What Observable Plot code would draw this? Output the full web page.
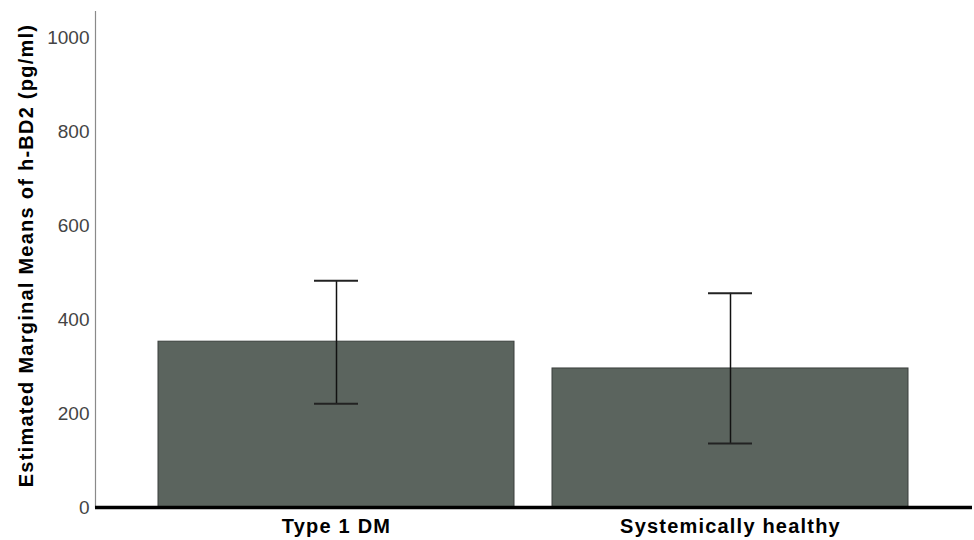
<!DOCTYPE html>
<html>
<head>
<meta charset="utf-8">
<script src="https://cdn.jsdelivr.net/npm/d3@7"></script>
<script src="https://cdn.jsdelivr.net/npm/@observablehq/plot@0.6"></script>
<style>
  html, body { margin: 0; padding: 0; background: #fff; }
  #chart svg { display: block; }
  #chart .xlab text { font-weight: bold; letter-spacing: 1.2px; }
  #chart .ytitle text { letter-spacing: 1.25px; }
</style>
</head>
<body>
<div id="chart"></div>
<script>
const groups = ["Type 1 DM", "Systemically healthy"];
const means = [353, 296];
const lower = [221, 136];
const upper = [483, 456];
const yTicks = [0, 200, 400, 600, 800, 1000];
const yTitle = "Estimated Marginal Means of h-BD2 (pg/ml)";

const data = groups.map((g, i) => ({group: g, mean: means[i], lo: lower[i], hi: upper[i]}));

const chart = Plot.plot({
  width: 974,
  height: 540,
  marginLeft: 95,
  marginRight: 2,
  marginTop: 11,
  marginBottom: 33,
  style: {fontFamily: "'Liberation Sans', Arial, sans-serif", background: "#fff"},
  x: {domain: groups, paddingInner: 0.096, paddingOuter: 0.16},
  y: {domain: [0, 1056]},
  marks: [
    Plot.frame({anchor: "left", stroke: "#8a8a8a", strokeWidth: 1.2}),
    Plot.barY(data, {x: "group", y: "mean", fill: "#5b645e", stroke: "#3a3f3c", strokeWidth: 1}),
    Plot.ruleX(data, {x: "group", y1: "lo", y2: "hi", stroke: "#111", strokeWidth: 1.5}),
    Plot.tickY(data, {x: "group", y: "hi", stroke: "#222", strokeWidth: 2, insetLeft: 156, insetRight: 156}),
    Plot.tickY(data, {x: "group", y: "lo", stroke: "#222", strokeWidth: 2, insetLeft: 156, insetRight: 156}),
    Plot.ruleY([0], {stroke: "#000", strokeWidth: 3.5}),
    Plot.axisY({ticks: yTicks, tickFormat: d3.format("d"), tickSize: 0, tickPadding: 6, fontSize: 19, color: "#444", label: null}),
    Plot.text([yTitle], {frameAnchor: "left", textAnchor: "middle", rotate: -90, dx: -69, dy: -4, fontSize: 20, fontWeight: "bold", fill: "#000", className: "ytitle"}),
    Plot.axisX({tickSize: 0, tickPadding: 11, fontSize: 20, color: "#000", label: null, className: "xlab"})
  ]
});
document.getElementById("chart").appendChild(chart);
</script>
</body>
</html>
